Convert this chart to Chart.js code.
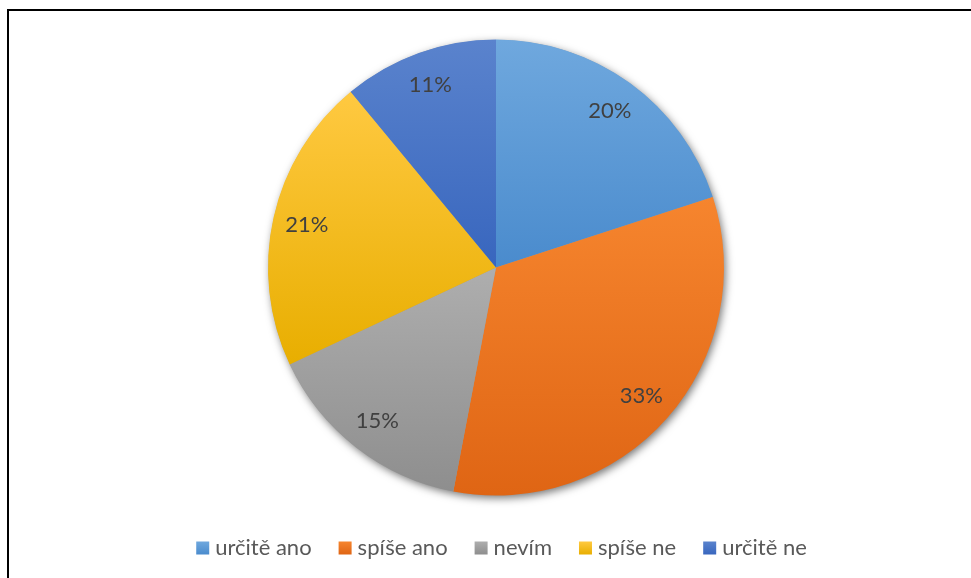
<!DOCTYPE html>
<html>
<head>
<meta charset="utf-8">
<script src="https://cdn.jsdelivr.net/npm/chart.js@4/dist/chart.umd.min.js"></script>
<style>
  html, body { margin: 0; padding: 0; background: #fff; overflow: hidden; }
  #wrap { position: relative; width: 971px; height: 578px; }
  #frame { position: absolute; left: 7px; top: 9px; width: 1000px; height: 700px;
           border: 2px solid #000; box-sizing: border-box; }
  #c { position: absolute; left: 0; top: 0; }
</style>
</head>
<body>
<div id="wrap">
  <div id="frame"></div>
  <canvas id="c" width="971" height="578"></canvas>
</div>
<script>
// Survey answers and their shares (percent)
const categories = ['určitě ano', 'spíše ano', 'nevím', 'spíše ne', 'určitě ne'];
const shares = [20, 33, 15, 21, 11];

// Slice fills: lighter tone at the top of each slice, darker at the bottom
const topColors    = ['#6FA8DE', '#F6852E', '#AEAEAE', '#FFC941', '#5A83CD'];
const bottomColors = ['#4A8BCD', '#DF6514', '#8E8E8E', '#E8AE00', '#3866BE'];
const flatColors   = ['#5B9BD5', '#ED7D31', '#A5A5A5', '#FFC000', '#4472C4'];

const FONT = 'Lato, "Open Sans", "Noto Sans", sans-serif';

// Vertical gradient spanning one slice's own bounding box
function sliceGradient(ctx) {
  const chart = ctx.chart;
  const area = chart.chartArea;
  const i = ctx.dataIndex;
  if (!area || i === undefined) return flatColors[i || 0];
  const cx = (area.left + area.right) / 2;
  const cy = (area.top + area.bottom) / 2;
  const R = Math.min(area.right - area.left, area.bottom - area.top) / 2;
  const total = shares.reduce((a, b) => a + b, 0);
  let before = 0;
  for (let k = 0; k < i; k++) before += shares[k];
  const a0 = -Math.PI / 2 + before / total * 2 * Math.PI;
  const a1 = a0 + shares[i] / total * 2 * Math.PI;
  const ys = [cy, cy + R * Math.sin(a0), cy + R * Math.sin(a1)];
  const contains = (ang) => {
    for (let t = ang - 4 * Math.PI; t <= a1 + 1e-9; t += 2 * Math.PI) {
      if (t >= a0 - 1e-9 && t <= a1 + 1e-9) return true;
    }
    return false;
  };
  if (contains(-Math.PI / 2)) ys.push(cy - R);
  if (contains(Math.PI / 2)) ys.push(cy + R);
  const y0 = Math.min(...ys), y1 = Math.max(...ys);
  const g = chart.ctx.createLinearGradient(0, y0, 0, y1);
  g.addColorStop(0, topColors[i]);
  g.addColorStop(1, bottomColors[i]);
  return g;
}

// Soft drop shadow under the whole pie
const pieShadow = {
  id: 'pieShadow',
  beforeDatasetsDraw(chart) {
    const arc = chart.getDatasetMeta(0).data[0];
    if (!arc) return;
    const ctx = chart.ctx;
    ctx.save();
    ctx.shadowColor = 'rgba(0,0,0,0.55)';
    ctx.shadowBlur = 9;
    ctx.shadowOffsetX = 2;
    ctx.shadowOffsetY = 3;
    ctx.fillStyle = '#9a9a9a';
    ctx.beginPath();
    ctx.arc(arc.x, arc.y, arc.outerRadius - 0.5, 0, Math.PI * 2);
    ctx.fill();
    ctx.restore();
  }
};

// Percentage labels placed inside each slice
const sliceLabels = {
  id: 'sliceLabels',
  afterDatasetsDraw(chart) {
    const ctx = chart.ctx;
    const meta = chart.getDatasetMeta(0);
    ctx.save();
    ctx.font = '22px ' + FONT;
    ctx.fillStyle = '#404040';
    ctx.textAlign = 'center';
    ctx.textBaseline = 'middle';
    meta.data.forEach((arc, i) => {
      const mid = (arc.startAngle + arc.endAngle) / 2;
      const r = arc.outerRadius * 0.85;
      const x = arc.x + Math.cos(mid) * r;
      const y = arc.y + Math.sin(mid) * r;
      ctx.fillText(shares[i] + '%', x, y);
    });
    ctx.restore();
  }
};

// Legend row under the pie: square swatch followed by its label
const legendRow = {
  id: 'legendRow',
  afterDraw(chart) {
    const ctx = chart.ctx;
    ctx.save();
    ctx.font = '22px ' + FONT;
    ctx.textBaseline = 'middle';
    const box = 13, boxGap = 6, itemGap = 27;
    const widths = categories.map(c => ctx.measureText(c).width);
    const total = widths.reduce((s, w) => s + box + boxGap + w, 0) + itemGap * (categories.length - 1);
    let x = 501.5 - total / 2;
    const yc = 548;
    categories.forEach((c, i) => {
      const g = ctx.createLinearGradient(0, yc - box / 2, 0, yc + box / 2);
      g.addColorStop(0, topColors[i]);
      g.addColorStop(1, bottomColors[i]);
      ctx.fillStyle = g;
      ctx.fillRect(x, yc - box / 2, box, box);
      x += box + boxGap;
      ctx.fillStyle = '#595959';
      ctx.fillText(c, x, yc);
      x += widths[i] + itemGap;
    });
    ctx.restore();
  }
};

new Chart(document.getElementById('c'), {
  type: 'pie',
  data: {
    labels: categories,
    datasets: [{
      data: shares,
      backgroundColor: sliceGradient,
      borderWidth: 0
    }]
  },
  options: {
    responsive: false,
    animation: false,
    devicePixelRatio: 1,
    layout: { padding: { top: 39.5, left: 21, right: 0, bottom: 82.5 } },
    plugins: {
      legend: { display: false },
      tooltip: { enabled: false }
    }
  },
  plugins: [pieShadow, sliceLabels, legendRow]
});
</script>
</body>
</html>
